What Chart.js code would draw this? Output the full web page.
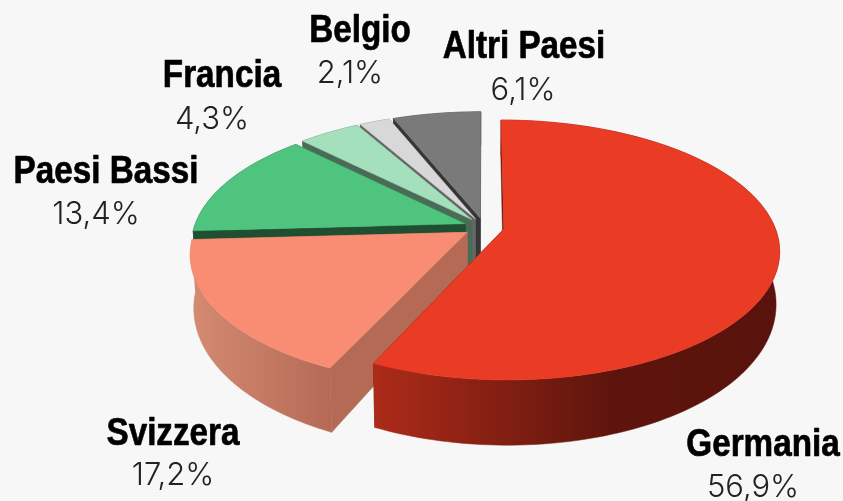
<!DOCTYPE html>
<html lang="it"><head><meta charset="utf-8">
<style>html,body{margin:0;padding:0;background:#f7f7f7}canvas{display:block}</style>
<script src="https://cdn.jsdelivr.net/npm/chart.js@4"></script>
</head><body><canvas id="c" width="843" height="501"></canvas>
<script>
const categories = ['Germania','Svizzera','Paesi Bassi','Francia','Belgio','Altri Paesi'];
const shares = [56.9,17.2,13.4,4.3,2.1,6.1];
const shareLabels = ['56,9%','17,2%','13,4%','4,3%','2,1%','6,1%'];
const topColors = ['#ea3b24','#f98d74','#4ec47f','#a4e0bc','#d8d8d8','#7a7a7a'];
const cutColors = ['#5c140c','#b46a55','#1f4f30','#4a6b55','#666666','#363636'];
const wallStops = [
  [[0,'#ad2b19'],[0.6,'#5c140c'],[1,'#5a130c']],
  [[0,'#d58b72'],[1,'#b46a55']],
  [[0,'#1f4f30'],[1,'#1f4f30']],
  [[0,'#4a6b55'],[1,'#4a6b55']],
  [[0,'#666666'],[1,'#666666']],
  [[0,'#363636'],[1,'#363636']]
];
// label layout: name centre/baseline, value centre/baseline
const labelLayout = [
  [763,456,753,497],[173,445,173,485],[106,183,96,224],
  [222,87,212,129],[360,42,350,83],[524,58,523,100]
];
// view of the disc
const view = {x0:484, y0:227, rx:271, ry:125.9, persp:0.161, depth0:50, depthV:15, shrink:0.988};

function project(U,V,low){
  const w = 1/(1-view.persp*V);
  let x = view.x0 + view.rx*U*w, y = view.y0 + view.ry*V*w;
  if(low){ x = view.x0+(x-view.x0)*view.shrink; y = y+view.depth0+view.depthV*V; }
  return [x,y];
}
function poly(ctx,pts,fill){
  ctx.beginPath();
  pts.forEach((p,i)=> i?ctx.lineTo(p[0],p[1]):ctx.moveTo(p[0],p[1]));
  ctx.closePath();
  ctx.fillStyle=fill; ctx.fill();
  ctx.strokeStyle=fill; ctx.lineWidth=0.5; ctx.stroke();
}
const pie3d = {
  id:'pie3d',
  beforeDatasetsDraw(chart){
    const ctx = chart.ctx, arcs = chart.getDatasetMeta(0).data;
    ctx.save();
    for(let i=arcs.length-1;i>=0;i--){
      const a = arcs[i], r = a.outerRadius;
      const d = (a.options.offset/4)/r, mid=(a.startAngle+a.endAngle)/2;
      const ou = Math.cos(mid)*d, ov = Math.sin(mid)*d;
      const rim=[], low=[];
      const n=Math.max(6,Math.ceil((a.endAngle-a.startAngle)*40));
      for(let k=0;k<=n;k++){
        const t=a.startAngle+(a.endAngle-a.startAngle)*k/n;
        const U=ou+Math.cos(t), V=ov+Math.sin(t);
        rim.push(project(U,V,false)); low.push(project(U,V,true));
      }
      const apex=project(ou,ov,false), apexLow=project(ou,ov,true);
      // cut faces
      poly(ctx,[apex,rim[n],low[n],apexLow],cutColors[i]);
      poly(ctx,[apex,rim[0],low[0],apexLow],cutColors[i]);
      // outer wall
      const xs=rim.map(p=>p[0]);
      const g=ctx.createLinearGradient(Math.min(...xs),0,Math.max(...xs),0);
      wallStops[i].forEach(s=>g.addColorStop(s[0],s[1]));
      poly(ctx,rim.concat(low.slice().reverse()),g);
      // top
      poly(ctx,[apex].concat(rim),a.options.backgroundColor);
    }
    ctx.restore();
    return false;
  },
  afterDraw(chart){
    const ctx=chart.ctx;
    ctx.save();
    ctx.textAlign='center'; ctx.textBaseline='alphabetic';
    categories.forEach((name,i)=>{
      const L=labelLayout[i];
      ctx.save();
      ctx.translate(L[0],L[1]);
      ctx.scale(0.875,1);
      ctx.fillStyle='#000'; ctx.strokeStyle='#000'; ctx.lineWidth=0.7; ctx.lineJoin='round';
      ctx.font='bold 38px "Liberation Sans"';
      ctx.fillText(name,0,0);
      ctx.strokeText(name,0,0);
      ctx.restore();
      ctx.fillStyle='#222';
      ctx.font='300 31px Inter';
      ctx.fillText(shareLabels[i],L[2],L[3]);
    });
    ctx.restore();
  }
};
new Chart(document.getElementById('c'),{
  type:'pie',
  data:{labels:categories,datasets:[{data:shares,backgroundColor:topColors,borderWidth:0,offset:65}]},
  options:{responsive:false,animation:false,events:[],
    plugins:{legend:{display:false},tooltip:{enabled:false}}},
  plugins:[pie3d]
});
</script></body></html>
